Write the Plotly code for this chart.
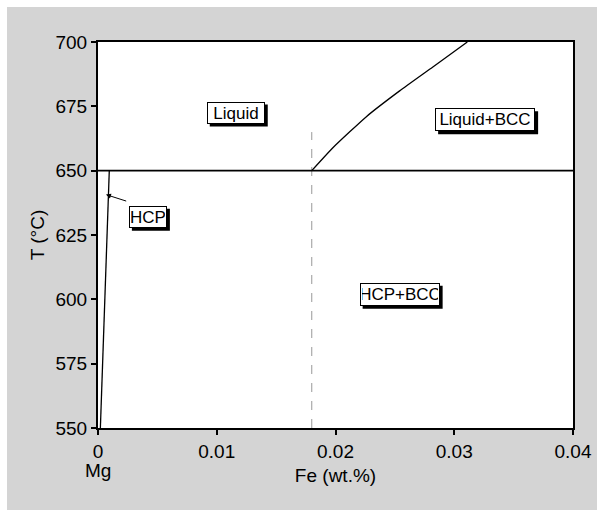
import plotly.graph_objects as go

# Data
liq_fe = [0.0180, 0.0198, 0.0226, 0.0254, 0.0282, 0.0311]
liq_t = [650, 659.0, 671.0, 681.0, 690.3, 700]
solvus_fe = [0.0002, 0.00095]
solvus_t = [550, 650]
eut_fe = [0.0, 0.04]
eut_t = [650, 650]
dash_fe = [0.018, 0.018]
dash_t = [550, 665]
labels = ["Liquid", "Liquid+BCC", "HCP", "HCP+BCC"]
label_fe = [0.0116, 0.0326, 0.0042, 0.0254]
label_t = [672.6, 669.8, 632.1, 602.0]
x_ticks = [0, 0.01, 0.02, 0.03, 0.04]
x_tick_text = ["0", "0.01", "0.02", "0.03", "0.04"]
y_ticks = [550, 575, 600, 625, 650, 675, 700]

# label box sizes in pixels (style)
box_w = [58, 100, 38, 80]
box_h = [22, 23, 22, 23]

FONT = "Liberation Sans, Arial, sans-serif"

fig = go.Figure()
fig.add_trace(go.Scatter(x=dash_fe, y=dash_t, mode="lines",
                         line=dict(color="#999999", width=1, dash="dash"), hoverinfo="skip"))
fig.add_trace(go.Scatter(x=eut_fe, y=eut_t, mode="lines",
                         line=dict(color="black", width=1.8), hoverinfo="skip"))
fig.add_trace(go.Scatter(x=liq_fe, y=liq_t, mode="lines", line_shape="spline",
                         line=dict(color="black", width=1.3, smoothing=0.5), hoverinfo="skip"))
fig.add_trace(go.Scatter(x=solvus_fe, y=solvus_t, mode="lines",
                         line=dict(color="black", width=1.3), hoverinfo="skip"))

# gray panel with white strips outside
W, H = 597, 518
l, r, t, b = 98, 24, 42, 90
pw, ph = W - l - r, H - t - b
def px_x(p):
    return (p - l) / pw
def px_y(p):
    return (H - b - p) / ph
shapes = [
    dict(type="rect", xref="paper", yref="paper", x0=px_x(-5), x1=px_x(W + 5), y0=px_y(-5), y1=px_y(7),
         fillcolor="white", line_width=0, layer="below"),
    dict(type="rect", xref="paper", yref="paper", x0=px_x(-5), x1=px_x(7), y0=px_y(H + 5), y1=px_y(-5),
         fillcolor="white", line_width=0, layer="below"),
    dict(type="rect", xref="paper", yref="paper", x0=px_x(-5), x1=px_x(W + 5), y0=px_y(H + 5), y1=px_y(510),
         fillcolor="white", line_width=0, layer="below"),
]

annotations = []
for txt, fx, ty, bw, bh in zip(labels, label_fe, label_t, box_w, box_h):
    shapes.append(dict(type="rect", xref="x", yref="y", xsizemode="pixel", ysizemode="pixel",
                       xanchor=fx, yanchor=ty,
                       x0=-bw / 2 + 3, x1=bw / 2 + 3, y0=-bh / 2 - 3, y1=bh / 2 - 3,
                       fillcolor="black", line_width=0, layer="above"))
    annotations.append(dict(x=fx, y=ty, xref="x", yref="y", text=txt, showarrow=False,
                            width=bw - 4, height=bh - 4, align="center", valign="middle",
                            font=dict(family=FONT, size=17, color="black"),
                            bgcolor="white", bordercolor="black", borderwidth=1, borderpad=1))
annotations.append(dict(x=0.00067, y=640.7, xref="x", yref="y", text="", showarrow=True,
                        ax=0.0025, ay=638, axref="x", ayref="y",
                        arrowhead=2, arrowsize=1, arrowwidth=1, arrowcolor="black"))
annotations.append(dict(x=0, y=px_y(483), xref="x", yref="paper", text="Mg", showarrow=False,
                        font=dict(family=FONT, size=19, color="black")))

fig.update_layout(
    width=W, height=H, autosize=False,
    margin=dict(l=l, r=r, t=t, b=b, autoexpand=False),
    paper_bgcolor="#d4d4d4", plot_bgcolor="white",
    showlegend=False,
    shapes=shapes, annotations=annotations,
    font=dict(family=FONT, size=19, color="black"),
    xaxis=dict(range=[0, 0.04], tickvals=x_ticks, ticktext=x_tick_text, automargin=False,
               ticks="outside", ticklen=5, tickwidth=1.5, tickcolor="black",
               showline=True, linecolor="black", linewidth=2, mirror=True,
               showgrid=False, zeroline=False,
               title=dict(text="Fe (wt.%)", standoff=8, font=dict(size=19))),
    yaxis=dict(range=[550, 700], tickvals=y_ticks, automargin=False,
               ticks="outside", ticklen=5, tickwidth=1.5, tickcolor="black",
               showline=True, linecolor="black", linewidth=2, mirror=True,
               showgrid=False, zeroline=False,
               title=dict(text="T (°C)", standoff=6, font=dict(size=19))),
)
fig.write_html("out.html", config={"displayModeBar": False},
               post_script="document.body.style.margin='0px';document.body.style.overflow='hidden';")
